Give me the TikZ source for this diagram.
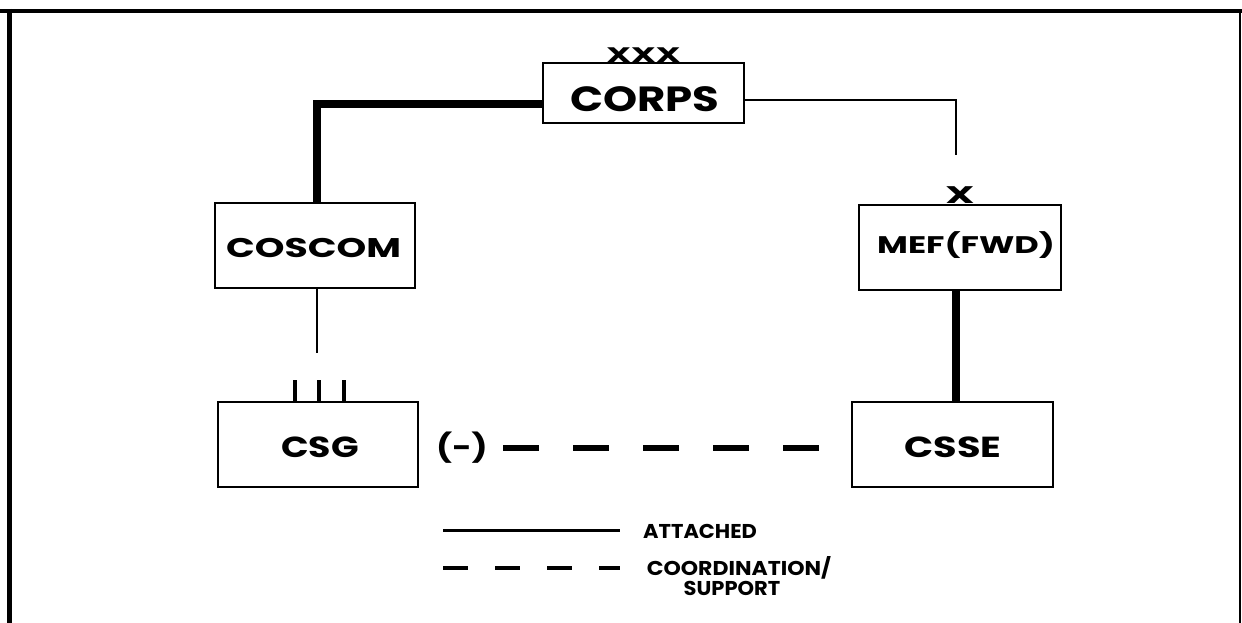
\documentclass[tikz,border=0pt]{standalone}
\usepackage{fontspec}
\setmainfont{Poppins}
\newcommand{\sxtext}[2]{\scalebox{#1}[1]{#2}}
\begin{document}
\begin{tikzpicture}[x=1pt,y=-1pt,
  box/.style={draw,line width=1.8pt,minimum width=200pt,minimum height=85pt,inner sep=0pt},
  lbl/.style={inner sep=0pt,anchor=base},
  thick line/.style={line width=8pt},
  thin line/.style={line width=2.4pt},
  dash line/.style={line width=5.5pt,dash pattern=on 36pt off 34pt}]
\useasboundingbox (0,0) rectangle (1242,623);
% frame
\draw[line width=4.5pt] (0,11) -- (1242,11);
\draw[line width=5pt] (9,9) -- (9,623);
\draw[line width=2.5pt] (1240,11) -- (1240,623);
% boxes
\node[box,minimum width=201pt,minimum height=60pt] (corps) at (643.5,93) {};
\node[box] (coscom) at (315,245.5) {};
\node[box,minimum width=202pt] (mef) at (960,247.5) {};
\node[box] (csg) at (318,444.5) {};
\node[box,minimum width=201pt] (csse) at (952.5,444.5) {};
% labels
\node[lbl,font=\bfseries\fontsize{35}{35}\selectfont] (tcorps) at (645,112) {\sxtext{1.24}{CORPS}};
\node[lbl,font=\bfseries\fontsize{21}{21}\selectfont] (txxx) at (643.5,63) {\sxtext{1.65}{XXX}};
\node[lbl,font=\bfseries\fontsize{27}{27}\selectfont] (tcoscom) at (313.5,257) {\sxtext{1.4}{COSCOM}};
\node[lbl,font=\bfseries\fontsize{24}{24}\selectfont] (tmef) at (966,253) {\sxtext{1.4}{MEF(FWD)}};
\node[lbl,font=\bfseries\fontsize{24}{24}\selectfont] (tx) at (960,203) {\sxtext{1.7}{X}};
\node[lbl,font=\bfseries\fontsize{29}{29}\selectfont] (tcsse) at (953,457) {\sxtext{1.32}{CSSE}};
\node[lbl,font=\bfseries\fontsize{29}{29}\selectfont] (tcsg) at (320,457) {\sxtext{1.25}{CSG}};
\node[lbl,font=\bfseries\fontsize{28}{28}\selectfont] (tminus) at (462,457) {\sxtext{1.2}{(-)}};
% III
\foreach \xx [count=\i] in {295,319,344} {
  \coordinate (bar\i) at (\xx,380);
  \draw[line width=4pt] (bar\i) -- (bar\i |- csg.north);
}
% connectors
\coordinate (cbend) at (317,104);
\draw[thick line] (coscom.north -| cbend) -- (cbend) -- (corps.west |- cbend);
\coordinate (rbend) at (956,100);
\coordinate (rend) at (956,155);
\draw[thin line] (corps.east |- rbend) -- (rbend) -- (rend);
\coordinate (cend) at (317,353);
\draw[thin line] (coscom.south -| cend) -- (cend);
\draw[thick line] (mef.south -| rend) -- (csse.north -| rend);
\coordinate (dstart) at (503,448);
\coordinate (dend) at (819,448);
\draw[dash line] (dstart) -- (dend);
% legend
\coordinate (l1a) at (443,530);
\coordinate (l1b) at (620,530);
\draw[line width=3pt] (l1a) -- (l1b);
\node[lbl,anchor=base west,font=\bfseries\fontsize{20}{20}\selectfont] (tatt) at (643,538) {\sxtext{1.05}{ATTACHED}};
\coordinate (l2a) at (443,568);
\coordinate (l2b) at (620,568);
\draw[line width=3.5pt,dash pattern=on 25pt off 27pt] (l2a) -- (l2b);
\node[lbl,font=\bfseries\fontsize{20}{20}\selectfont] (tcoord) at (739,575) {\sxtext{1.1}{COORDINATION/}};
\node[lbl,font=\bfseries\fontsize{20}{20}\selectfont] (tsupp) at (732,595) {\sxtext{1.05}{SUPPORT}};
\end{tikzpicture}
\end{document}
